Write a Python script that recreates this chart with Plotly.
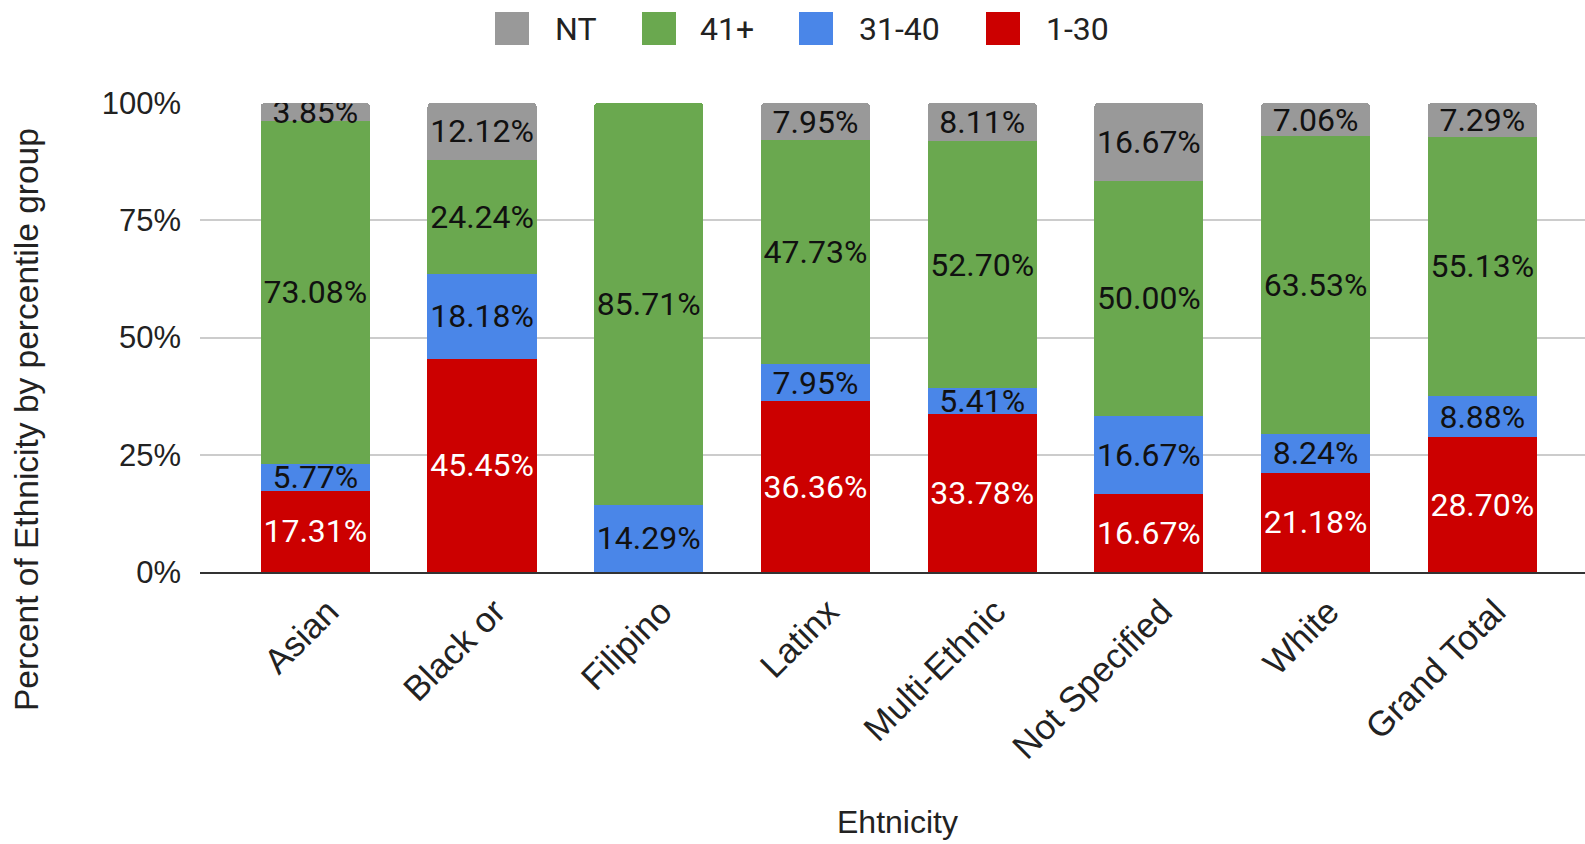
import plotly.graph_objects as go

# Categories and percentile-group shares (percent of each ethnicity)
ethnicities = ["Asian", "Black or", "Filipino", "Latinx", "Multi-Ethnic",
               "Not Specified", "White", "Grand Total"]
pct_1_30 = [17.31, 45.45, 0.00, 36.36, 33.78, 16.67, 21.18, 28.70]
pct_31_40 = [5.77, 18.18, 14.29, 7.95, 5.41, 16.67, 8.24, 8.88]
pct_41_plus = [73.08, 24.24, 85.71, 47.73, 52.70, 50.00, 63.53, 55.13]
pct_nt = [3.85, 12.12, 0.00, 7.95, 8.11, 16.67, 7.06, 7.29]

y_ticks = [0, 25, 50, 75, 100]
y_tick_labels = ["0%", "25%", "50%", "75%", "100%"]

# Stacking order, bottom to top
series = [
    ("1-30", pct_1_30, "#cc0000", "#ffffff"),
    ("31-40", pct_31_40, "#4a86e8", "#111111"),
    ("41+", pct_41_plus, "#6aa84f", "#111111"),
    ("NT", pct_nt, "#999999", "#111111"),
]

W, H = 1585, 844
L, R, T, B = 200, 0, 103, 272
plot_w = W - L - R
plot_h = H - T - B


def px_x(px):
    return (px - L) / plot_w


def px_y(py):
    return (H - B - py) / plot_h


fig = go.Figure()
for name, vals, color, txt_color in series:
    fig.add_trace(go.Bar(
        name=name,
        x=ethnicities,
        y=vals,
        width=0.655,
        marker=dict(color=color, line=dict(width=0)),
        text=[f"{v:.2f}%" if v > 0 else "" for v in vals],
        textposition="inside",
        insidetextanchor="middle",
        textangle=0,
        constraintext="none",
        textfont=dict(family="Roboto", size=32, color=txt_color),
        showlegend=False,
        hoverinfo="skip",
    ))

# Legend drawn as swatches + labels across the top
legend_items = [("NT", "#999999", 495, 553),
                ("41+", "#6aa84f", 642, 698),
                ("31-40", "#4a86e8", 799, 857),
                ("1-30", "#cc0000", 986, 1044)]
shapes = []
annotations = []
for label, color, sx, tx in legend_items:
    shapes.append(dict(type="rect", xref="paper", yref="paper",
                       x0=px_x(sx), x1=px_x(sx + 34),
                       y0=px_y(45), y1=px_y(12),
                       fillcolor=color, line=dict(width=0)))
    annotations.append(dict(text=label, xref="paper", yref="paper",
                            x=px_x(tx), y=px_y(29), xanchor="left",
                            yanchor="middle", showarrow=False,
                            font=dict(family="Roboto", size=32, color="#222222")))

# Axis titles
annotations.append(dict(text="Percent of Ethnicity by percentile group",
                        xref="paper", yref="paper", x=px_x(26), y=px_y(420),
                        xanchor="center", yanchor="middle", textangle=-90,
                        showarrow=False,
                        font=dict(family="Liberation Sans", size=33.5, color="#222222")))
annotations.append(dict(text="Ehtnicity", xref="paper", yref="paper",
                        x=px_x(898), y=px_y(822), xanchor="center",
                        yanchor="middle", showarrow=False,
                        font=dict(family="Liberation Sans", size=32, color="#222222")))

fig.update_layout(
    width=W, height=H,
    margin=dict(l=L, r=R, t=T, b=B),
    barmode="stack",
    barnorm="percent",
    barcornerradius=4,
    uniformtext=dict(minsize=32, mode="show"),
    paper_bgcolor="white",
    plot_bgcolor="white",
    shapes=shapes,
    annotations=annotations,
    xaxis=dict(
        type="category",
        range=[-0.692, 7.616],
        tickangle=-45,
        tickfont=dict(family="Liberation Sans", size=35, color="#222222"),
        showline=True, linecolor="#333333", linewidth=2,
        showgrid=False, ticks="",
        ticklabelshift=13,
        ticklabelstandoff=3,
    ),
    yaxis=dict(
        range=[0, 100],
        tickvals=y_ticks,
        ticktext=y_tick_labels,
        tickfont=dict(family="Liberation Sans", size=31, color="#222222"),
        gridcolor="#cccccc", gridwidth=2,
        zeroline=False, showline=False, ticks="",
        ticklabelstandoff=18,
    ),
)

fig.write_html("out.html")
